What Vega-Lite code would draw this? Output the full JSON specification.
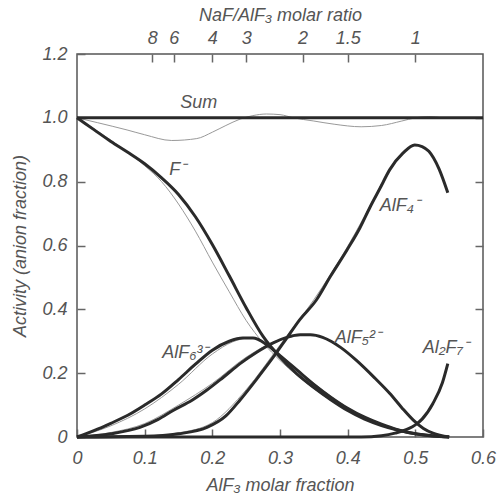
{
  "$schema": "https://vega.github.io/schema/vega-lite/v6.json",
  "width": 406,
  "height": 383,
  "autosize": "none",
  "padding": {"left": 77, "top": 54, "right": 14, "bottom": 61},
  "background": "white",
  "config": {
    "view": {"stroke": "#555", "strokeWidth": 1.5},
    "font": "Liberation Sans",
    "axis": {
      "domain": false,
      "grid": false,
      "ticks": true,
      "zindex": 1,
      "labelFont": "Liberation Sans",
      "labelFontStyle": "italic",
      "labelFontSize": 18,
      "labelColor": "#555",
      "titleFont": "Liberation Sans",
      "titleFontStyle": "italic",
      "titleFontWeight": "normal",
      "titleFontSize": 18,
      "titleColor": "#555",
      "tickColor": "#666",
      "tickWidth": 1.5,
      "tickSize": 8,
      "tickOpacity": 1,
      "offset": -8
    }
  },
  "datasets": {
    "thick": [
      {"s": "Sum", "x": 0, "y": 1.0}, {"s": "Sum", "x": 0.6, "y": 1.0},
      {"s": "F", "x": 0, "y": 1.0}, {"s": "F", "x": 0.025, "y": 0.963}, {"s": "F", "x": 0.05, "y": 0.926}, {"s": "F", "x": 0.075, "y": 0.892}, {"s": "F", "x": 0.1, "y": 0.856}, {"s": "F", "x": 0.125, "y": 0.812}, {"s": "F", "x": 0.15, "y": 0.76}, {"s": "F", "x": 0.175, "y": 0.69}, {"s": "F", "x": 0.2, "y": 0.603}, {"s": "F", "x": 0.225, "y": 0.505}, {"s": "F", "x": 0.25, "y": 0.405}, {"s": "F", "x": 0.275, "y": 0.315}, {"s": "F", "x": 0.3, "y": 0.25}, {"s": "F", "x": 0.325, "y": 0.198}, {"s": "F", "x": 0.35, "y": 0.155}, {"s": "F", "x": 0.375, "y": 0.117}, {"s": "F", "x": 0.4, "y": 0.083}, {"s": "F", "x": 0.425, "y": 0.056}, {"s": "F", "x": 0.45, "y": 0.036}, {"s": "F", "x": 0.475, "y": 0.021}, {"s": "F", "x": 0.5, "y": 0.01}, {"s": "F", "x": 0.525, "y": 0.004}, {"s": "F", "x": 0.55, "y": 0.0},
      {"s": "AlF6", "x": 0, "y": 0}, {"s": "AlF6", "x": 0.025, "y": 0.02}, {"s": "AlF6", "x": 0.05, "y": 0.043}, {"s": "AlF6", "x": 0.075, "y": 0.068}, {"s": "AlF6", "x": 0.1, "y": 0.1}, {"s": "AlF6", "x": 0.125, "y": 0.135}, {"s": "AlF6", "x": 0.15, "y": 0.18}, {"s": "AlF6", "x": 0.175, "y": 0.228}, {"s": "AlF6", "x": 0.2, "y": 0.272}, {"s": "AlF6", "x": 0.225, "y": 0.3}, {"s": "AlF6", "x": 0.245, "y": 0.31}, {"s": "AlF6", "x": 0.26, "y": 0.31}, {"s": "AlF6", "x": 0.28, "y": 0.29}, {"s": "AlF6", "x": 0.3, "y": 0.255}, {"s": "AlF6", "x": 0.325, "y": 0.21}, {"s": "AlF6", "x": 0.35, "y": 0.165}, {"s": "AlF6", "x": 0.375, "y": 0.125}, {"s": "AlF6", "x": 0.4, "y": 0.09}, {"s": "AlF6", "x": 0.425, "y": 0.062}, {"s": "AlF6", "x": 0.45, "y": 0.04}, {"s": "AlF6", "x": 0.475, "y": 0.022}, {"s": "AlF6", "x": 0.5, "y": 0.01}, {"s": "AlF6", "x": 0.525, "y": 0.003}, {"s": "AlF6", "x": 0.55, "y": 0},
      {"s": "AlF5", "x": 0, "y": 0}, {"s": "AlF5", "x": 0.05, "y": 0.01}, {"s": "AlF5", "x": 0.093, "y": 0.03}, {"s": "AlF5", "x": 0.12, "y": 0.055}, {"s": "AlF5", "x": 0.142, "y": 0.083}, {"s": "AlF5", "x": 0.17, "y": 0.115}, {"s": "AlF5", "x": 0.192, "y": 0.147}, {"s": "AlF5", "x": 0.215, "y": 0.185}, {"s": "AlF5", "x": 0.241, "y": 0.23}, {"s": "AlF5", "x": 0.265, "y": 0.265}, {"s": "AlF5", "x": 0.29, "y": 0.295}, {"s": "AlF5", "x": 0.31, "y": 0.312}, {"s": "AlF5", "x": 0.33, "y": 0.32}, {"s": "AlF5", "x": 0.345, "y": 0.32}, {"s": "AlF5", "x": 0.363, "y": 0.312}, {"s": "AlF5", "x": 0.39, "y": 0.28}, {"s": "AlF5", "x": 0.413, "y": 0.24}, {"s": "AlF5", "x": 0.44, "y": 0.185}, {"s": "AlF5", "x": 0.462, "y": 0.137}, {"s": "AlF5", "x": 0.48, "y": 0.092}, {"s": "AlF5", "x": 0.497, "y": 0.053}, {"s": "AlF5", "x": 0.512, "y": 0.027}, {"s": "AlF5", "x": 0.526, "y": 0.012}, {"s": "AlF5", "x": 0.55, "y": 0},
      {"s": "AlF4", "x": 0, "y": 0}, {"s": "AlF4", "x": 0.1, "y": 0.002}, {"s": "AlF4", "x": 0.15, "y": 0.01}, {"s": "AlF4", "x": 0.192, "y": 0.03}, {"s": "AlF4", "x": 0.22, "y": 0.066}, {"s": "AlF4", "x": 0.241, "y": 0.116}, {"s": "AlF4", "x": 0.265, "y": 0.18}, {"s": "AlF4", "x": 0.29, "y": 0.25}, {"s": "AlF4", "x": 0.31, "y": 0.31}, {"s": "AlF4", "x": 0.329, "y": 0.367}, {"s": "AlF4", "x": 0.354, "y": 0.43}, {"s": "AlF4", "x": 0.375, "y": 0.505}, {"s": "AlF4", "x": 0.399, "y": 0.586}, {"s": "AlF4", "x": 0.418, "y": 0.655}, {"s": "AlF4", "x": 0.433, "y": 0.72}, {"s": "AlF4", "x": 0.448, "y": 0.78}, {"s": "AlF4", "x": 0.462, "y": 0.837}, {"s": "AlF4", "x": 0.482, "y": 0.89}, {"s": "AlF4", "x": 0.499, "y": 0.915}, {"s": "AlF4", "x": 0.51, "y": 0.91}, {"s": "AlF4", "x": 0.52, "y": 0.895}, {"s": "AlF4", "x": 0.535, "y": 0.84}, {"s": "AlF4", "x": 0.548, "y": 0.765},
      {"s": "Al2F7", "x": 0, "y": 0}, {"s": "Al2F7", "x": 0.42, "y": 0}, {"s": "Al2F7", "x": 0.45, "y": 0.004}, {"s": "Al2F7", "x": 0.47, "y": 0.012}, {"s": "Al2F7", "x": 0.49, "y": 0.026}, {"s": "Al2F7", "x": 0.5, "y": 0.038}, {"s": "Al2F7", "x": 0.51, "y": 0.056}, {"s": "Al2F7", "x": 0.526, "y": 0.105}, {"s": "Al2F7", "x": 0.54, "y": 0.17}, {"s": "Al2F7", "x": 0.548, "y": 0.23}
    ],
    "thin": [
      {"s": "Sum", "x": 0, "y": 1.0}, {"s": "Sum", "x": 0.03, "y": 0.985}, {"s": "Sum", "x": 0.074, "y": 0.962}, {"s": "Sum", "x": 0.1, "y": 0.947}, {"s": "Sum", "x": 0.14, "y": 0.929}, {"s": "Sum", "x": 0.177, "y": 0.935}, {"s": "Sum", "x": 0.2, "y": 0.955}, {"s": "Sum", "x": 0.22, "y": 0.976}, {"s": "Sum", "x": 0.241, "y": 0.996}, {"s": "Sum", "x": 0.26, "y": 1.007}, {"s": "Sum", "x": 0.28, "y": 1.012}, {"s": "Sum", "x": 0.3, "y": 1.01}, {"s": "Sum", "x": 0.32, "y": 1.0}, {"s": "Sum", "x": 0.35, "y": 0.99}, {"s": "Sum", "x": 0.38, "y": 0.98}, {"s": "Sum", "x": 0.42, "y": 0.972}, {"s": "Sum", "x": 0.45, "y": 0.976}, {"s": "Sum", "x": 0.48, "y": 0.99}, {"s": "Sum", "x": 0.5, "y": 1.0}, {"s": "Sum", "x": 0.52, "y": 1.004}, {"s": "Sum", "x": 0.54, "y": 1.0},
      {"s": "F", "x": 0, "y": 1.0}, {"s": "F", "x": 0.05, "y": 0.93}, {"s": "F", "x": 0.1, "y": 0.85}, {"s": "F", "x": 0.125, "y": 0.8}, {"s": "F", "x": 0.15, "y": 0.73}, {"s": "F", "x": 0.175, "y": 0.645}, {"s": "F", "x": 0.2, "y": 0.548}, {"s": "F", "x": 0.225, "y": 0.455}, {"s": "F", "x": 0.25, "y": 0.365}, {"s": "F", "x": 0.275, "y": 0.295}, {"s": "F", "x": 0.3, "y": 0.24}, {"s": "F", "x": 0.35, "y": 0.152}, {"s": "F", "x": 0.4, "y": 0.082}, {"s": "F", "x": 0.45, "y": 0.036}, {"s": "F", "x": 0.5, "y": 0.01}, {"s": "F", "x": 0.55, "y": 0},
      {"s": "AlF6", "x": 0, "y": 0}, {"s": "AlF6", "x": 0.05, "y": 0.035}, {"s": "AlF6", "x": 0.1, "y": 0.088}, {"s": "AlF6", "x": 0.15, "y": 0.165}, {"s": "AlF6", "x": 0.2, "y": 0.26}, {"s": "AlF6", "x": 0.23, "y": 0.298}, {"s": "AlF6", "x": 0.255, "y": 0.31}, {"s": "AlF6", "x": 0.28, "y": 0.292}, {"s": "AlF6", "x": 0.3, "y": 0.258}, {"s": "AlF6", "x": 0.35, "y": 0.168}, {"s": "AlF6", "x": 0.4, "y": 0.092}, {"s": "AlF6", "x": 0.45, "y": 0.04}, {"s": "AlF6", "x": 0.5, "y": 0.01}, {"s": "AlF6", "x": 0.55, "y": 0},
      {"s": "AlF5", "x": 0, "y": 0}, {"s": "AlF5", "x": 0.05, "y": 0.014}, {"s": "AlF5", "x": 0.1, "y": 0.042}, {"s": "AlF5", "x": 0.15, "y": 0.1}, {"s": "AlF5", "x": 0.2, "y": 0.168}, {"s": "AlF5", "x": 0.25, "y": 0.25}, {"s": "AlF5", "x": 0.3, "y": 0.305}, {"s": "AlF5", "x": 0.335, "y": 0.32},
      {"s": "AlF4", "x": 0.1, "y": 0.003}, {"s": "AlF4", "x": 0.15, "y": 0.013}, {"s": "AlF4", "x": 0.2, "y": 0.045}, {"s": "AlF4", "x": 0.25, "y": 0.148}, {"s": "AlF4", "x": 0.3, "y": 0.288}, {"s": "AlF4", "x": 0.35, "y": 0.43}, {"s": "AlF4", "x": 0.4, "y": 0.597}, {"s": "AlF4", "x": 0.45, "y": 0.793}
    ],
    "labels": [
      {"t": "Sum", "x": 0.18, "y": 1.047},
      {"t": "F⁻", "x": 0.149, "y": 0.837},
      {"t": "AlF₄⁻", "x": 0.477, "y": 0.724},
      {"t": "AlF₆³⁻", "x": 0.16, "y": 0.263},
      {"t": "AlF₅²⁻", "x": 0.415, "y": 0.31},
      {"t": "Al₂F₇⁻", "x": 0.545, "y": 0.279}
    ]
  },
  "layer": [
    {
      "data": {"name": "thin"},
      "mark": {"type": "line", "interpolate": "monotone", "color": "#999", "strokeWidth": 1},
      "encoding": {
        "x": {"field": "x", "type": "quantitative", "scale": {"domain": [0, 0.6], "nice": false},
          "axis": {"orient": "bottom", "title": "AlF₃ molar fraction", "values": [0, 0.1, 0.2, 0.3, 0.4, 0.5, 0.6], "labelExpr": "datum.value == 0 ? '0' : format(datum.value, '.1f')", "labelPadding": 12, "titlePadding": 9, "labelFlush": false, "ticks": true, "tickSize": 8, "tickColor": "#666"}},
        "y": {"field": "y", "type": "quantitative", "scale": {"domain": [0, 1.2], "nice": false},
          "axis": {"orient": "left", "title": "Activity (anion fraction)", "values": [0, 0.2, 0.4, 0.6, 0.8, 1.0, 1.2], "labelExpr": "datum.value == 0 ? '0' : format(datum.value, '.1f')", "labelPadding": 10, "titlePadding": 12, "labelFlush": false, "ticks": true, "tickSize": 8, "tickColor": "#666"}},
        "detail": {"field": "s"}
      }
    },
    {
      "data": {"name": "thick"},
      "mark": {"type": "line", "interpolate": "monotone", "color": "#2a2a2a", "strokeWidth": 3},
      "encoding": {
        "x": {"field": "x", "type": "quantitative",
          "axis": {"orient": "top", "title": "NaF/AlF₃ molar ratio", "values": [0.1111111111, 0.1428571429, 0.2, 0.25, 0.3333333333, 0.4, 0.5], "labelExpr": "format((1 - datum.value) / datum.value, '.1~f')", "labelPadding": 7, "titlePadding": 5, "labelFlush": false, "ticks": true, "tickSize": 8, "tickColor": "#666"}},
        "y": {"field": "y", "type": "quantitative",
          "axis": {"orient": "right", "title": null, "labels": false, "values": [0.2, 0.4, 0.6, 0.8, 1.0], "ticks": true, "tickSize": 8, "tickColor": "#666"}},
        "detail": {"field": "s"}
      }
    },
    {
      "data": {"name": "labels"},
      "mark": {"type": "text", "font": "Liberation Sans", "fontStyle": "italic", "fontSize": 18, "color": "#555", "align": "center", "baseline": "middle"},
      "encoding": {
        "x": {"field": "x", "type": "quantitative", "axis": null},
        "y": {"field": "y", "type": "quantitative", "axis": null},
        "text": {"field": "t"}
      }
    }
  ],
  "resolve": {"axis": {"x": "independent", "y": "independent"}}
}
